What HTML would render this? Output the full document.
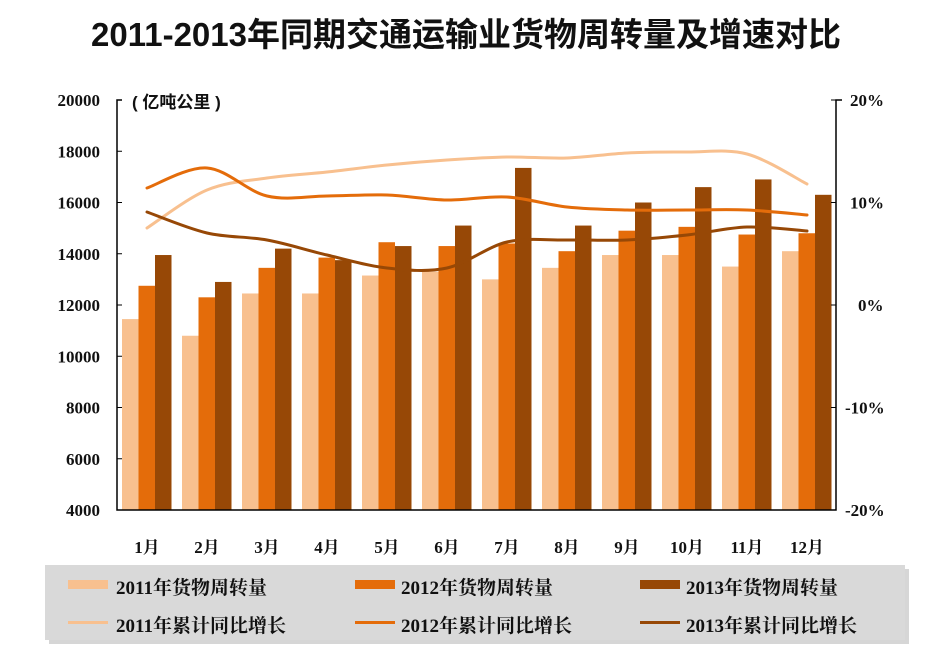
<!DOCTYPE html>
<html><head><meta charset="utf-8">
<style>
body{margin:0;background:#fff;width:936px;height:659px;overflow:hidden;font-family:"Liberation Serif","Noto Serif CJK SC","Noto Sans CJK SC",serif;}
svg text{font-weight:bold;}
</style></head><body>
<svg id="s" width="936" height="659" xmlns="http://www.w3.org/2000/svg">
<text x="466" y="46" text-anchor="middle" font-family="Liberation Sans, Noto Sans CJK SC, sans-serif" font-size="33" fill="#111">2011-2013年同期交通运输业货物周转量及增速对比</text>
<text x="132" y="108" font-size="17" font-family="Liberation Sans, Noto Sans CJK SC, sans-serif" fill="#111">( 亿吨公里 )</text>
<g id="bars"></g>
<g id="lines" fill="none" stroke-width="3" stroke-linejoin="round" stroke-linecap="round"></g>
<g stroke="#000" stroke-width="1.5" fill="none">
<path d="M122 100 H117 V510 H836 V100 H842"/>
</g>
<g id="ax" font-size="17" fill="#111"></g>
<rect x="49" y="569" width="860" height="75" fill="#bbb" opacity="0.6"/>
<rect x="45" y="565" width="860" height="75" fill="#d9d9d9"/>
<g font-size="19" fill="#111">
<rect x="68" y="580" width="40" height="9" fill="#f8c08f"/><text x="116" y="594">2011年货物周转量</text>
<rect x="355" y="580" width="40" height="9" fill="#e46c0a"/><text x="401" y="594">2012年货物周转量</text>
<rect x="640" y="580" width="40" height="9" fill="#974806"/><text x="686" y="594">2013年货物周转量</text>
<rect x="68" y="621" width="40" height="3" fill="#f8c08f"/><text x="116" y="632">2011年累计同比增长</text>
<rect x="355" y="621" width="40" height="3" fill="#e46c0a"/><text x="401" y="632">2012年累计同比增长</text>
<rect x="640" y="621" width="40" height="3" fill="#974806"/><text x="686" y="632">2013年累计同比增长</text>
</g>
</svg>
<script>
var ns="http://www.w3.org/2000/svg";
function el(p,t,a,tx){var e=document.createElementNS(ns,t);for(var k in a)e.setAttribute(k,a[k]);if(tx)e.textContent=tx;document.getElementById(p).appendChild(e);return e;}
var d=[[11450,10800,12450,12450,13150,13300,13000,13450,13950,13950,13500,14100],
[12750,12300,13450,13850,14450,14300,14400,14100,14900,15050,14750,14800],
[13950,12900,14200,13750,14300,15100,17350,15100,16000,16600,16900,16300]];
var c=['#f8c08f','#e46c0a','#974806'];
function y(v){return 510-(v-4000)*0.025625;}
for(var n=0;n<12;n++){var x0=122+60*n;
for(var k=0;k<3;k++){el('bars','rect',{x:x0+16.5*k,y:y(d[k][n]),width:16.5,height:510-y(d[k][n]),fill:c[k]});}
el('ax','text',{x:x0+25,y:553,'text-anchor':'middle'},(n+1)+'月');}
var L=[[228,190,178,172,165,160,157,158,153,152,154,184],
[188,168,196,196,195,200,197,207,210,210,210,215],
[212,233,240,255,268,268,242,240,240,235,227,231]];
for(var k=0;k<3;k++){var p=[];for(var n=0;n<12;n++)p.push([147+60*n,L[k][n]]);
var s2='M'+p[0];for(var i=0;i<11;i++){var p0=p[Math.max(i-1,0)],p1=p[i],p2=p[i+1],p3=p[Math.min(i+2,11)];
s2+=' C'+(p1[0]+(p2[0]-p0[0])/6)+','+(p1[1]+(p2[1]-p0[1])/6)+' '+(p2[0]-(p3[0]-p1[0])/6)+','+(p2[1]-(p3[1]-p1[1])/6)+' '+p2;}
el('lines','path',{d:s2,stroke:c[k]});}
for(var v=4000;v<=20000;v+=2000){var yy=y(v);el('ax','text',{x:100,y:yy+6,'text-anchor':'end'},v);el('ax','line',{x1:117,x2:122,y1:yy,y2:yy,stroke:'#000'});}
var pl=['20%','10%','0%','-10%','-20%'];
for(var i=0;i<5;i++){var yy=100+102.5*i;el('ax','text',{x:i==2?858:(i>2?845:850),y:yy+6},pl[i]);el('ax','line',{x1:831,x2:836,y1:yy,y2:yy,stroke:'#000'});}
</script>
</body></html>
